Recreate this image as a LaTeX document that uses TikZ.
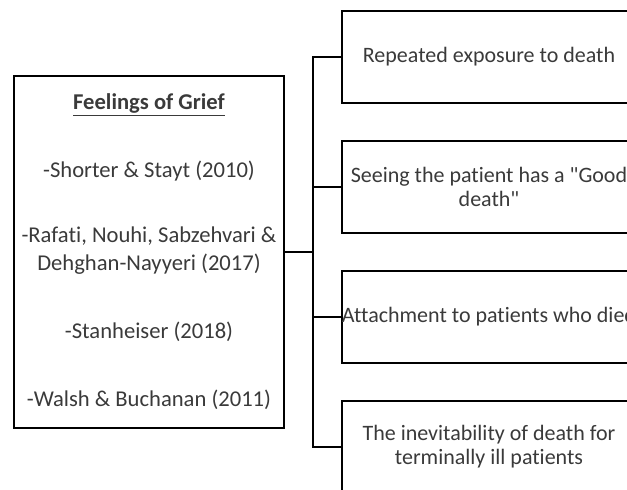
\documentclass[tikz,border=0pt]{standalone}
\usepackage{fontspec}
\setmainfont{Carlito}[Ligatures={NoCommon,TeXOff}]
\definecolor{txt}{HTML}{3A3A3A}
\begin{document}
\begin{tikzpicture}[x=1pt,y=-1pt,
  box/.style={draw=black, line width=1.6pt, rectangle, inner sep=0pt, text=txt, align=center, font=\fontsize{22}{24}\selectfont},
  rbox/.style={box, minimum width=294pt, minimum height=92pt},
  conn/.style={draw=black, line width=1.6pt}]
\useasboundingbox (0,0) rectangle (627,490);
\clip (0,0) rectangle (627,490);
\node[box, minimum width=270pt, minimum height=352pt, font=\fontsize{22.6}{28}\selectfont] (grief) at (149,252)
  {\underline{\textbf{Feelings of Grief}}\\[40pt]
   -Shorter \& Stayt (2010)\\[37pt]
   -Rafati, Nouhi, Sabzehvari \&\\
   Dehghan-Nayyeri (2017)\\[40pt]
   -Stanheiser (2018)\\[40pt]
   -Walsh \& Buchanan (2011)};
\node[rbox] (b1) at (489,57) {Repeated exposure to death};
\node[rbox] (b2) at (489,187) {Seeing the patient has a "Good\\death"};
\node[rbox] (b3) at (489,317) {Attachment to patients who died};
\node[rbox] (b4) at (489,447) {The inevitability of death for\\terminally ill patients};
\coordinate (j) at (313,252);
\draw[conn] (grief.east) -- (j);
\draw[conn] (b1.west) -- (b1.west -| j) -- (b4.west -| j) -- (b4.west);
\draw[conn] (b2.west) -- (b2.west -| j);
\draw[conn] (b3.west) -- (b3.west -| j);
\end{tikzpicture}
\end{document}
